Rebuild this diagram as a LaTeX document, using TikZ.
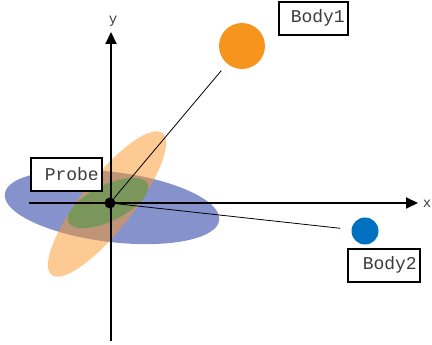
\documentclass[tikz,border=0pt]{standalone}
\usepackage{fontspec}
\setmonofont{Liberation Mono}
\usetikzlibrary{arrows.meta}
\definecolor{ellblue}{RGB}{133,146,204}
\definecolor{ellorange}{RGB}{251,150,40}
\definecolor{ellgreen}{RGB}{122,150,90}
\definecolor{bodyorange}{RGB}{247,148,30}
\definecolor{bodyblue}{RGB}{0,112,192}
\definecolor{labelgray}{RGB}{60,60,60}
\tikzset{
  axis/.style={line width=2pt,-{Triangle[length=12pt,width=11pt]}},
  link/.style={line width=0.8pt},
  labelbox/.style={draw=black,line width=1.6pt,fill=white,font=\ttfamily\fontsize{18}{18}\selectfont,
    text=labelgray,inner xsep=3pt,inner ysep=0pt,text width=64pt,align=right,minimum height=33pt,anchor=north west},
  axlabel/.style={font=\ttfamily\fontsize{14}{14}\selectfont,text=labelgray,inner sep=0pt}
}
\begin{document}
\begin{tikzpicture}[x=1pt,y=-1pt]
\useasboundingbox (0,0) rectangle (432,345);
% ellipses
\fill[ellblue] (112,207) ellipse[x radius=108,y radius=35,rotate=-7];
\fill[ellorange,fill opacity=0.5] (107,204) ellipse[x radius=90,y radius=26,rotate=52];
\fill[ellgreen] (108,203) ellipse[x radius=44,y radius=18,rotate=26];
% axes
\coordinate (xs) at (29,203);
\coordinate (xe) at (418,203);
\coordinate (ys) at (111,341);
\coordinate (ye) at (111,32);
\draw[axis] (xs) -- (xe);
\draw[axis] (ys) -- (ye);
\node[axlabel] (xl) at (427,204) {x};
\node[axlabel] (yl) at (113,21) {y};
% bodies
\node[circle,fill=bodyorange,minimum size=46pt,inner sep=0pt] (b1) at (242,46) {};
\node[circle,fill=bodyblue,minimum size=27pt,inner sep=0pt] (b2) at (365,231) {};
\node[circle,fill=black,minimum size=11pt,inner sep=0pt] (probe) at (110,203) {};
\draw[link,shorten >=9pt] (probe) -- (b1);
\draw[link,shorten >=11pt] (probe) -- (b2);
% labels
\node[labelbox,text width=65pt] (lp) at (30,157) {Probe};
\node[labelbox,text width=63pt] (l1) at (278,1) {Body1};
\node[labelbox,text width=66pt] (l2) at (347,248) {Body2};
\end{tikzpicture}
\end{document}
